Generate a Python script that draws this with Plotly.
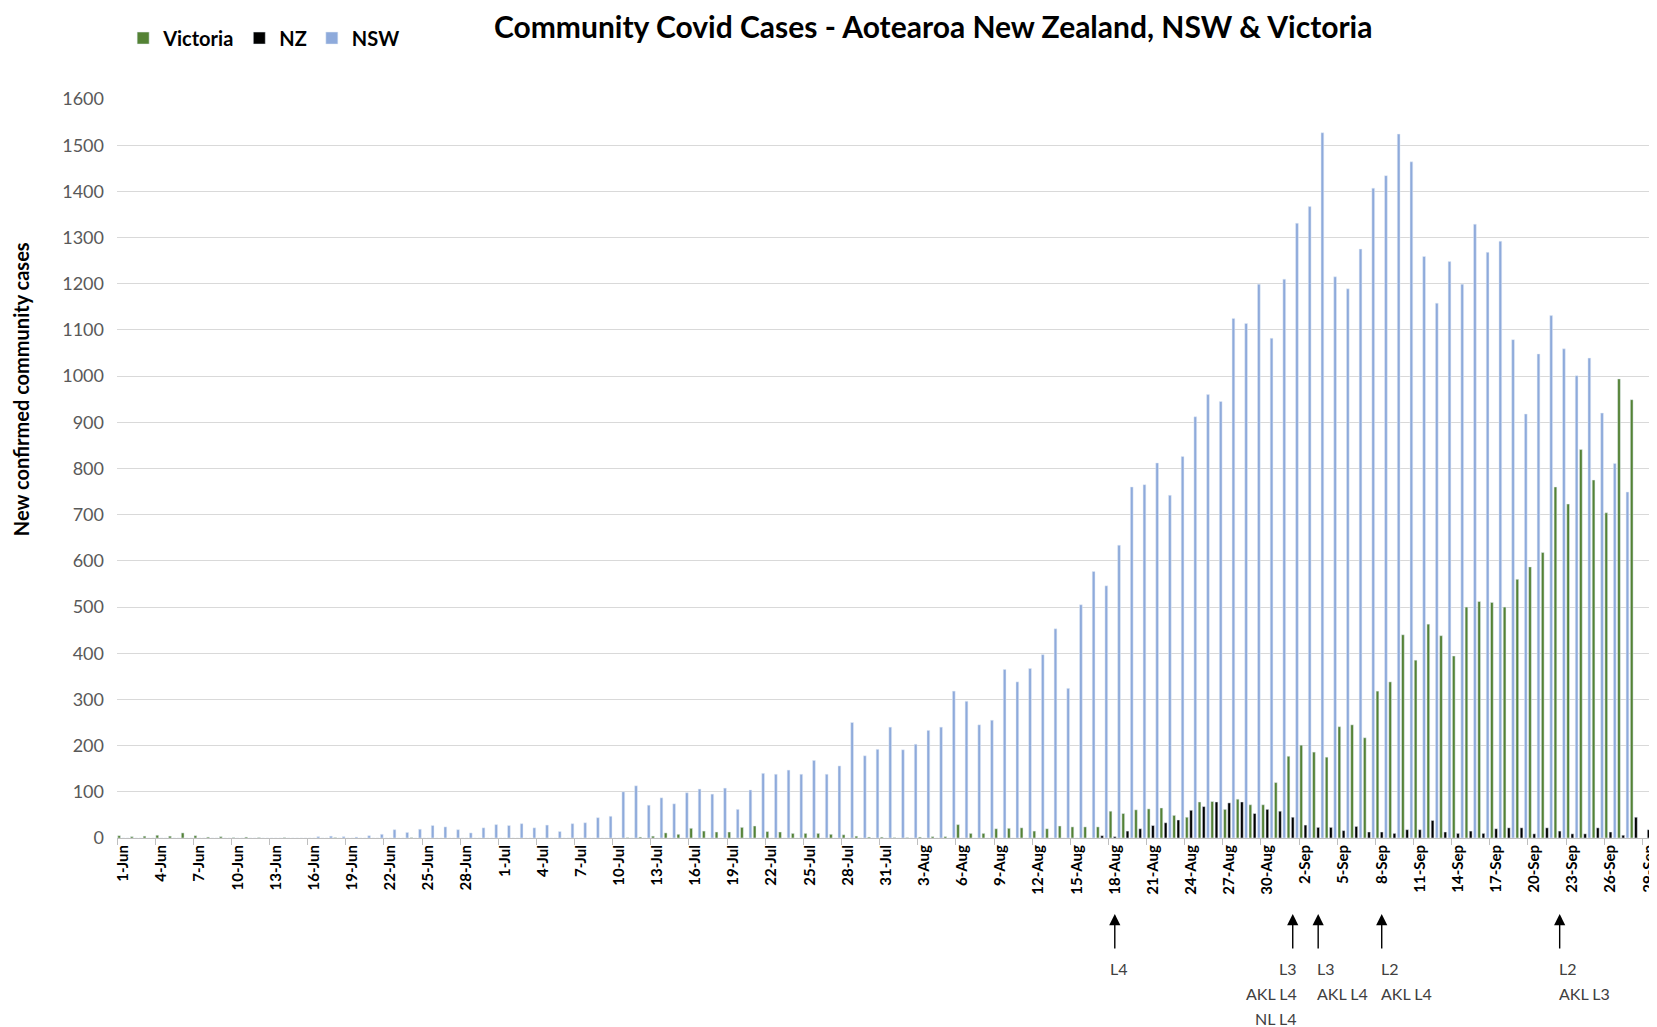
import pandas as pd
import plotly.graph_objects as go

# one category per day, 1 Jun - 29 Sep 2021
days = pd.date_range("2021-06-01", "2021-09-29", freq="D")
dates = [f"{d.day}-{d.strftime('%b')}" for d in days]
tick_labels = dates[::3]

victoria = [
    5, 3, 4, 6, 4, 11, 5, 2, 3, 1,
    2, 1, 0, 1, 0, 0, 0, 1, 0, 0,
    0, 0, 0, 1, 0, 0, 0, 0, 0, 0,
    0, 0, 0, 0, 0, 0, 0, 0, 0, 0,
    1, 2, 4, 11, 8, 21, 15, 13, 13, 23,
    26, 14, 13, 10, 10, 10, 8, 7, 4, 2,
    2, 1, 1, 2, 3, 3, 29, 10, 10, 20,
    21, 22, 15, 20, 26, 24, 24, 24, 58, 53,
    61, 63, 65, 49, 45, 78, 79, 62, 84, 72,
    72, 120, 177, 201, 186, 175, 241, 245, 217, 318,
    338, 440, 385, 463, 438, 394, 500, 512, 510, 500,
    560, 587, 618, 760, 723, 841, 775, 704, 994, 949,
    None,
]

nz = [0] * 77 + [
    5, 3, 15,
    20, 27, 33, 39, 60, 68, 78, 76, 78, 53,
    62, 58, 45, 28, 23, 23, 16, 25, 13, 13,
    10, 18, 18, 38, 13, 10, 15, 10, 20, 22,
    22, 9, 22, 15, 9, 9, 22, 13, 6, 45,
    18,
]

nsw = [
    0, 0, 0, 0, 0, 0, 0, 0, 0, 0,
    0, 0, 0, 0, 0, 3, 4, 3, 2, 5,
    8, 18, 12, 19, 27, 24, 18, 11, 22, 29,
    27, 31, 22, 28, 14, 31, 33, 44, 47, 100,
    113, 71, 87, 74, 98, 106, 95, 108, 62, 104,
    140, 138, 147, 138, 168, 138, 156, 250, 178, 192,
    240, 191, 203, 233, 240, 318, 296, 245, 255, 365,
    338, 367, 397, 453, 324, 505, 577, 546, 634, 760,
    765, 812, 742, 826, 912, 960, 945, 1125, 1114, 1199,
    1082, 1210, 1331, 1367, 1527, 1215, 1189, 1275, 1407, 1434,
    1524, 1464, 1259, 1158, 1248, 1199, 1329, 1268, 1292, 1079,
    918, 1048, 1131, 1059, 1001, 1039, 920, 811, 749, None,
    None,
]

# NZ alert level changes, marked with arrows under the axis
alert_days = ["18-Aug", "1-Sep", "3-Sep", "8-Sep", "22-Sep"]
alert_text = [
    ["L4"],
    ["L3", "AKL L4", "NL L4"],
    ["L3", "AKL L4"],
    ["L2", "AKL L4"],
    ["L2", "AKL L3"],
]
text_anchor = ["center", "right", "left", "left", "left"]
text_shift = [4, 6, -3, -3, -3]

fig = go.Figure()
fig.add_trace(go.Bar(x=dates, y=victoria, name="Victoria", marker_color="#548235"))
fig.add_trace(go.Bar(x=dates, y=nz, name="NZ", marker_color="#000000"))
fig.add_trace(go.Bar(x=dates, y=nsw, name="NSW", marker_color="#8eaadb"))

for day, lines, anchor, shift in zip(alert_days, alert_text, text_anchor, text_shift):
    fig.add_annotation(
        x=day, xref="x", y=-0.103, yref="paper",
        ax=0, ay=36, text="", showarrow=True,
        arrowhead=2, arrowsize=1.6, arrowwidth=1.4, arrowcolor="black",
    )
    for i, line in enumerate(lines):
        fig.add_annotation(
            x=day, xref="x", y=-0.176 - i * 0.0338, yref="paper",
            text=line, showarrow=False, xanchor=anchor, yanchor="middle",
            xshift=shift, font=dict(size=16, color="#404040"),
        )

# y axis title sits above the plot centre, as in the original
fig.add_annotation(
    text="New confirmed community cases", textangle=-90,
    x=-0.0623, xref="paper", y=0.6076, yref="paper",
    xanchor="center", yanchor="middle", showarrow=False,
    font=dict(size=20, color="black", weight="bold"),
)

fig.update_layout(
    width=1649, height=1019,
    margin=dict(l=109, r=0, t=91, b=189),
    paper_bgcolor="white", plot_bgcolor="white",
    font=dict(family="Lato, sans-serif", color="#404040"),
    barmode="group", bargap=0, bargroupgap=0.35,
    title=dict(
        text="Community Covid Cases - Aotearoa New Zealand, NSW & Victoria",
        x=0.5307, xref="paper", xanchor="center",
        y=0.9804, yref="container", yanchor="middle",
        font=dict(size=30, color="black", weight="bold"),
    ),
    legend=dict(
        orientation="h", x=0.004, xanchor="left", y=1.0825, yanchor="middle",
        font=dict(size=20, color="black", weight="bold"),
    ),
)

fig.update_yaxes(
    range=[0, 1600], dtick=100,
    showgrid=True, gridcolor="#d9d9d9", gridwidth=1,
    zeroline=False, showline=False, ticks="",
    tickfont=dict(size=18, color="#595959"), ticklabelstandoff=12,
)

fig.update_xaxes(
    type="category", range=[-0.5, 120.5],
    tickmode="array", tickvals=tick_labels, ticktext=tick_labels,
    tickangle=-90, tickson="boundaries", ticks="outside", ticklen=6,
    tickcolor="#bfbfbf", showline=True, linecolor="#bfbfbf", linewidth=1,
    showgrid=False, tickfont=dict(size=15, color="black", weight="bold"),
)

fig.write_html("out.html")
